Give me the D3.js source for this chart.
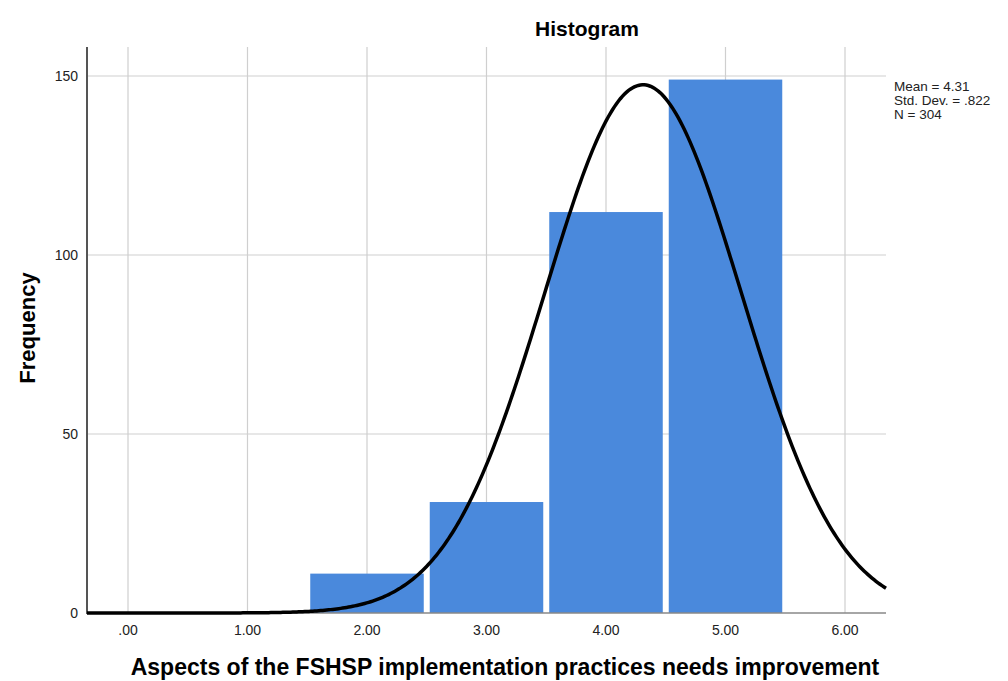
<!DOCTYPE html>
<html>
<head>
<meta charset="utf-8">
<script src="https://cdn.jsdelivr.net/npm/d3@7"></script>
<style>
  body { margin: 0; background: #fff; }
  svg { font-family: "Liberation Sans", Arial, sans-serif; }
</style>
</head>
<body>
<div id="display"></div>
<script>
// histogram data
const binStarts = [1.5, 2.5, 3.5, 4.5];
const binWidth = 1;
const freqs = [11, 31, 112, 149];
const xTicks = [0, 1, 2, 3, 4, 5, 6];
const xTickLabels = ['.00', '1.00', '2.00', '3.00', '4.00', '5.00', '6.00'];
const yTicks = [0, 50, 100, 150];
const stats = ['Mean = 4.31', 'Std. Dev. = .822', 'N = 304'];
const mean = 4.31, sd = 0.822, n = 304;

let w = 1008;
let h = 681;

let viz = d3.select('#display')
            .append('svg')
                .attr('width', w)
                .attr('height', h);

let pLeft = 87, pRight = 886, pTop = 47, pBottom = 613;

let xScale = d3.scaleLinear().domain([0, 6]).range([128, 845]);
let yScale = d3.scaleLinear().domain([0, 150]).range([pBottom, 76]);

// grid
viz.append('g').selectAll('line').data(yTicks.slice(1)).join('line')
    .attr('x1', pLeft).attr('x2', pRight)
    .attr('y1', d => yScale(d)).attr('y2', d => yScale(d))
    .attr('stroke', '#cfcfcf').attr('stroke-width', 1.2);
viz.append('g').selectAll('line').data(xTicks).join('line')
    .attr('x1', d => xScale(d)).attr('x2', d => xScale(d))
    .attr('y1', pTop).attr('y2', pBottom)
    .attr('stroke', '#cfcfcf').attr('stroke-width', 1.2);

// bars
viz.append('g').selectAll('rect').data(freqs).join('rect')
    .attr('x', (d, i) => xScale(binStarts[i]) + 3)
    .attr('width', (d, i) => xScale(binStarts[i] + binWidth) - xScale(binStarts[i]) - 6)
    .attr('y', d => yScale(d))
    .attr('height', d => pBottom - yScale(d))
    .attr('fill', '#4a89dc');

// axes
viz.append('line').attr('x1', pLeft).attr('x2', pLeft).attr('y1', pTop).attr('y2', pBottom + 1)
    .attr('stroke', '#555').attr('stroke-width', 2);
viz.append('line').attr('x1', pLeft).attr('x2', pRight).attr('y1', pBottom).attr('y2', pBottom)
    .attr('stroke', '#888').attr('stroke-width', 1.5);

viz.append('g').selectAll('text').data(yTicks).join('text')
    .attr('x', pLeft - 9).attr('y', d => yScale(d) + 5)
    .attr('text-anchor', 'end').attr('font-size', 14).attr('fill', '#222')
    .text(d => d);
viz.append('g').selectAll('text').data(xTicks).join('text')
    .attr('x', d => xScale(d)).attr('y', pBottom + 22)
    .attr('text-anchor', 'middle').attr('font-size', 14).attr('fill', '#222')
    .text((d, i) => xTickLabels[i]);

// normal curve from mean, sd, n
let xMin = xScale.invert(pLeft), xMax = xScale.invert(pRight);
let curve = d3.range(0, 401).map(i => {
    let x = xMin + (xMax - xMin) * i / 400;
    let z = (x - mean) / sd;
    return [x, n * binWidth * Math.exp(-0.5 * z * z) / (sd * Math.sqrt(2 * Math.PI))];
});
viz.append('path').datum(curve)
    .attr('d', d3.line().x(d => xScale(d[0])).y(d => yScale(d[1])))
    .attr('fill', 'none').attr('stroke', '#000').attr('stroke-width', 3.5);

// titles
viz.append('text').attr('x', 587).attr('y', 36).attr('text-anchor', 'middle')
    .attr('font-size', 21).attr('font-weight', 'bold').text('Histogram');
viz.append('text').attr('x', 505).attr('y', 675).attr('text-anchor', 'middle')
    .attr('font-size', 23).attr('font-weight', 'bold')
    .text('Aspects of the FSHSP implementation practices needs improvement');
viz.append('text').attr('transform', 'translate(35,328) rotate(-90)').attr('text-anchor', 'middle')
    .attr('font-size', 22).attr('font-weight', 'bold').text('Frequency');

viz.append('g').selectAll('text').data(stats).join('text')
    .attr('x', 894).attr('y', (d, i) => 91 + i * 14)
    .attr('font-size', 13.5).attr('fill', '#222')
    .text(d => d);
</script>
</body>
</html>
